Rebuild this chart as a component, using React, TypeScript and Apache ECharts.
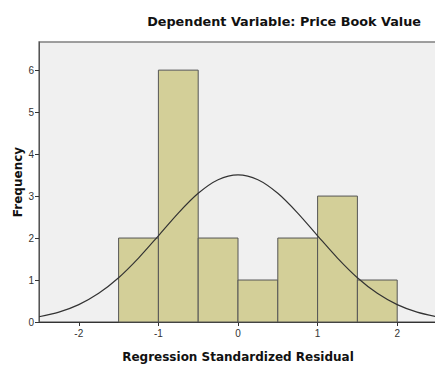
import React, { useEffect, useRef } from "react";
import * as echarts from "echarts";

const binStarts = [-1.5, -1, -0.5, 0, 0.5, 1, 1.5];
const binWidth = 0.5;
const counts = [2, 6, 2, 1, 2, 3, 1];
const curveX = [-2.5, -2.25, -2, -1.75, -1.5, -1.25, -1, -0.75, -0.5, -0.25, 0, 0.25, 0.5, 0.75, 1, 1.25, 1.5, 1.75, 2, 2.25, 2.5];
const curveY = [0.125, 0.235, 0.414, 0.683, 1.054, 1.522, 2.054, 2.595, 3.065, 3.388, 3.503, 3.388, 3.065, 2.595, 2.054, 1.522, 1.054, 0.683, 0.414, 0.235, 0.125];
const xTicks = [-2, -1, 0, 1, 2];
const yTicks = [0, 1, 2, 3, 4, 5, 6];
const titleText = "Dependent Variable: Price Book Value";
const xName = "Regression Standardized Residual";
const yName = "Frequency";

export default function App() {
  const ref = useRef<HTMLDivElement>(null);
  useEffect(() => {
    const chart = echarts.init(ref.current!, null, { renderer: "svg" });
    const font = "'Liberation Sans', Arial, sans-serif";
    const boldFont = "'DejaVu Sans', sans-serif";
    chart.setOption({
      animation: false,
      title: {
        text: titleText,
        right: 9,
        top: 10,
        textStyle: { fontFamily: boldFont, fontSize: 12.8, fontWeight: "bold", color: "#111" },
      },
      graphic: [
        {
          type: "text",
          x: 18,
          y: 182,
          rotation: Math.PI / 2,
          style: {
            text: yName,
            fontFamily: boldFont,
            fontSize: 12,
            fontWeight: "bold",
            fill: "#111",
            textAlign: "center",
            textVerticalAlign: "middle",
          },
        },
      ],
      grid: {
        left: 39,
        top: 42,
        right: -2,
        bottom: 45,
        outerBoundsMode: "none",
        show: true,
        backgroundColor: "#f0f0f0",
        borderColor: "#808080",
        borderWidth: 1.5,
      },
      xAxis: {
        type: "value",
        min: -2.5,
        max: 2.5,
        name: xName,
        nameLocation: "middle",
        nameGap: 29,
        nameTextStyle: { fontFamily: boldFont, fontSize: 12, fontWeight: "bold", color: "#111" },
        axisLine: { show: true, onZero: false, lineStyle: { color: "#333", width: 1 } },
        axisTick: { show: true, length: 4, customValues: xTicks, lineStyle: { color: "#333" } },
        axisLabel: { customValues: xTicks, margin: 6, fontFamily: font, fontSize: 10, color: "#333" },
        splitLine: { show: false },
      },
      yAxis: {
        type: "value",
        min: 0,
        max: 6.67,
        axisLine: { show: true, onZero: false, lineStyle: { color: "#555", width: 1 } },
        axisTick: { show: true, length: 4, customValues: yTicks, lineStyle: { color: "#333" } },
        axisLabel: { customValues: yTicks, margin: 5, fontFamily: font, fontSize: 10, color: "#333" },
        splitLine: { show: false },
      },
      series: [
        {
          type: "custom",
          data: binStarts.map((s, i) => [s, s + binWidth, counts[i]]),
          encode: { x: [0, 1], y: 2 },
          renderItem: (params: any, api: any) => {
            const p0 = api.coord([api.value(0), 0]);
            const p1 = api.coord([api.value(1), api.value(2)]);
            return {
              type: "rect",
              shape: { x: p0[0], y: p1[1], width: p1[0] - p0[0], height: p0[1] - p1[1] },
              style: { fill: "#d3cf98", stroke: "#555", lineWidth: 1 },
            };
          },
          z: 2,
        },
        {
          type: "line",
          data: curveX.map((x, i) => [x, curveY[i]]),
          smooth: 0.3,
          showSymbol: false,
          lineStyle: { color: "#333", width: 1.2 },
          z: 3,
        },
      ],
    });
    return () => chart.dispose();
  }, []);
  return <div ref={ref} style={{ width: 435, height: 367, position: "absolute", left: 0, top: 0 }} />;
}
